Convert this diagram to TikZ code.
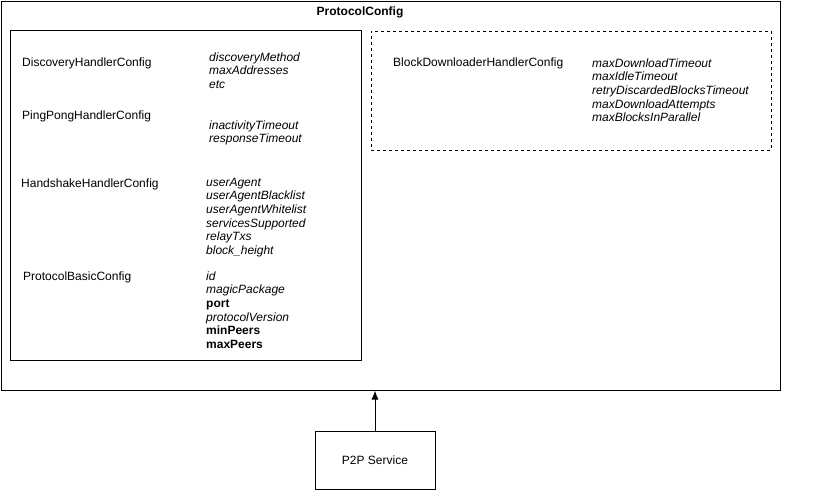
\documentclass[tikz,border=0pt]{standalone}
\usepackage{fontspec}
\setmainfont{Liberation Sans}
\usepackage{tikz}
\usetikzlibrary{arrows.meta}

\begin{document}
\begin{tikzpicture}[>={Latex[length=9pt,width=7pt]}, x=1pt, y=-1pt,
    frame/.style={rectangle, draw, line width=1pt, inner sep=0pt},
    label/.style={anchor=base west, inner sep=0pt, font=\fontsize{12}{13.7}\selectfont},
    fields/.style={label, align=left, font=\fontsize{12}{13.7}\selectfont\itshape}]
        \useasboundingbox (0,0) rectangle (821,491);
        \node (cfg) at (390.5,195.5) [frame, minimum width=779, minimum height=389] {};
        \node (title) at (360,15) [anchor=base, inner sep=0pt, font=\fontsize{12}{14}\selectfont\bfseries] {ProtocolConfig};
        \node (core) at (185.5,195) [frame, minimum width=351, minimum height=330] {};
        \node (dl) at (571,90.5) [frame, dashed, minimum width=400, minimum height=119] {};

        % base of a list node is its last line
        \node (disc) at (22,66) [label] {DiscoveryHandlerConfig};
        \node (discf) at (209,88.4) [fields] {discoveryMethod\\maxAddresses\\etc};
        \node (ping) at (22,119) [label] {PingPongHandlerConfig};
        \node (pingf) at (209,142.7) [fields] {inactivityTimeout\\responseTimeout};
        \node (hand) at (21,187) [label] {HandshakeHandlerConfig};
        \node (handf) at (206,254.5) [fields] {userAgent\\userAgentBlacklist\\userAgentWhitelist\\servicesSupported\\relayTxs\\block\_height};
        \node (basic) at (23,280) [label] {ProtocolBasicConfig};
        \node (basicf) at (206,348.5) [fields] {id\\magicPackage\\\textbf{\upshape port}\\protocolVersion\\\textbf{\upshape minPeers}\\\textbf{\upshape maxPeers}};
        \node (block) at (393,66) [label] {BlockDownloaderHandlerConfig};
        \node (blockf) at (592,121.8) [fields] {maxDownloadTimeout\\maxIdleTimeout\\retryDiscardedBlocksTimeout\\maxDownloadAttempts\\maxBlocksInParallel};

        \node (p2p) at (375,460) [frame, minimum width=120, minimum height=58, font=\fontsize{12}{14}\selectfont] {P2P Service};
        \draw[->, line width=1pt] (p2p)--(p2p.north |- cfg.south);

    \end{tikzpicture}
\end{document}
